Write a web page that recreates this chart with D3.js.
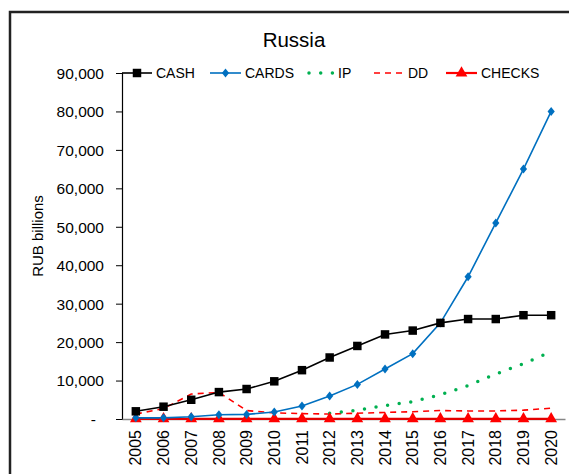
<!DOCTYPE html>
<html><head><meta charset="utf-8">
<script src="https://cdn.jsdelivr.net/npm/d3@7"></script>
<style>body{margin:0;background:#fff}svg{display:block}text{font-family:"Liberation Sans",Arial,sans-serif;fill:#000}</style>
</head><body>
<script>
const years = ["2005","2006","2007","2008","2009","2010","2011","2012","2013","2014","2015","2016","2017","2018","2019","2020"];
const cash   = [2000,3200,5000,7000,7800,9800,12700,16000,19000,22000,23000,25000,26000,26000,27000,27000];
const cards  = [300,300,600,1100,1200,1800,3400,6000,9000,13000,17000,25000,37000,51000,65000,80000];
const ip     = [null,null,null,null,null,null,null,1500,2300,3500,4500,6300,8700,11700,14400,17500];
const dd     = [1300,2700,6500,6900,2200,1600,1400,1300,1500,1700,1900,2200,2100,2100,2300,2800];
const checks = [50,50,50,50,50,50,50,50,50,50,50,50,50,50,50,50];
const yTicks = [0,10000,20000,30000,40000,50000,60000,70000,80000,90000];
const title = "Russia";
const yLabel = "RUB billions";

const W = 569, H = 474;
const svg = d3.select("body").append("svg").attr("width", W).attr("height", H);
svg.append("rect").attr("x",10).attr("y",12).attr("width",580).attr("height",490)
  .attr("fill","#fff").attr("stroke","#222").attr("stroke-width",2.5);

const x = d3.scaleBand().domain(years).range([122,565]).padding(0);
const y = d3.scaleLinear().domain([0,90000]).range([419,73]);
const cx = d => x(d) + x.bandwidth()/2;

svg.append("text").attr("x",294).attr("y",47).attr("text-anchor","middle")
  .style("font-size","20.5px").text(title);

// y axis
const yAxis = d3.axisLeft(y).tickValues(yTicks).tickSize(6).tickPadding(12)
  .tickFormat(d => d === 0 ? "-" : d3.format(",")(d));
const gy = svg.append("g").attr("transform","translate(122,0)").call(yAxis);
gy.select(".domain").attr("stroke","#000").attr("stroke-width",1.2);
gy.selectAll(".tick line").attr("stroke","#000");
gy.selectAll(".tick text").style("font-size","15.5px").attr("dy","0.35em");
gy.selectAll(".tick text").filter(d=>d===0).attr("dx","-8");

// x axis
const xAxis = d3.axisBottom(x).tickSize(0).tickPadding(10);
const gx = svg.append("g").attr("transform","translate(0,419)").call(xAxis);
gx.select(".domain").attr("stroke","#868686").attr("stroke-width",1.5);
gx.selectAll(".tick text").style("font-size","16px")
  .attr("transform","rotate(-90)").attr("text-anchor","end")
  .attr("x",-11).attr("y",0).attr("dy","0.35em");

svg.append("text").attr("transform","translate(43,236) rotate(-90)")
  .attr("text-anchor","middle").style("font-size","15px").text(yLabel);

const line = d3.line().defined(d => d.v !== null).x(d => cx(d.yr)).y(d => y(d.v));
const pts = arr => arr.map((v,i)=>({yr:years[i], v}));

// DD dashed
svg.append("path").datum(pts(dd)).attr("d",line).attr("fill","none")
  .attr("stroke","#FF0000").attr("stroke-width",1.6).attr("stroke-dasharray","6,5");
// IP dotted
svg.append("path").datum(pts(ip)).attr("d",line).attr("fill","none")
  .attr("stroke","#00B050").attr("stroke-width",3.5).attr("stroke-linecap","round")
  .attr("stroke-dasharray","0,11.7");
// checks
svg.append("path").datum(pts(checks)).attr("d",line).attr("fill","none")
  .attr("stroke","#E30000").attr("stroke-width",2.2);
// cards
svg.append("path").datum(pts(cards)).attr("d",line).attr("fill","none")
  .attr("stroke","#0070C0").attr("stroke-width",1.6);
// cash
svg.append("path").datum(pts(cash)).attr("d",line).attr("fill","none")
  .attr("stroke","#000").attr("stroke-width",1.6);

const sq = d3.symbol().type(d3.symbolSquare).size(72)();
const dia = "M0,-4.5L3.6,0L0,4.5L-3.6,0Z";
const tri = d3.symbol().type(d3.symbolTriangle).size(60)();

svg.append("g").selectAll("path").data(pts(checks)).join("path")
  .attr("d",tri).attr("fill","#FF0000").attr("transform",d=>`translate(${cx(d.yr)},${y(d.v)})`);
svg.append("g").selectAll("path").data(pts(cards)).join("path")
  .attr("d",dia).attr("fill","#0070C0").attr("transform",d=>`translate(${cx(d.yr)},${y(d.v)})`);
svg.append("g").selectAll("path").data(pts(cash)).join("path")
  .attr("d",sq).attr("fill","#000").attr("transform",d=>`translate(${cx(d.yr)},${y(d.v)})`);

// legend
const legend = [
  {name:"CASH", x1:122, x2:152, stroke:"#000", dash:null, w:1.6, sym:sq, fill:"#000"},
  {name:"CARDS", x1:210, x2:241, stroke:"#0070C0", dash:null, w:1.6, sym:dia, fill:"#0070C0"},
  {name:"IP", x1:309, x2:334, stroke:"#00B050", dash:"0,11.7", w:3.5, sym:null, cap:"round"},
  {name:"DD", x1:374, x2:404, stroke:"#FF0000", dash:"6,5", w:1.6, sym:null},
  {name:"CHECKS", x1:446, x2:477, stroke:"#FF0000", dash:null, w:2.2, sym:tri, fill:"#FF0000"}
];
const ly = 73;
const lg = svg.append("g").selectAll("g").data(legend).join("g");
lg.append("line").attr("x1",d=>d.x1).attr("x2",d=>d.x2).attr("y1",ly).attr("y2",ly)
  .attr("stroke",d=>d.stroke).attr("stroke-width",d=>d.w)
  .attr("stroke-dasharray",d=>d.dash).attr("stroke-linecap",d=>d.cap||"butt");
lg.filter(d=>d.sym).append("path").attr("d",d=>d.sym).attr("fill",d=>d.fill)
  .attr("transform",d=>`translate(${(d.x1+d.x2)/2},${ly})`);
lg.append("text").attr("x",d=>d.x2+4).attr("y",ly).attr("dy","0.35em")
  .style("font-size","14px").text(d=>d.name);
</script>
</body></html>
